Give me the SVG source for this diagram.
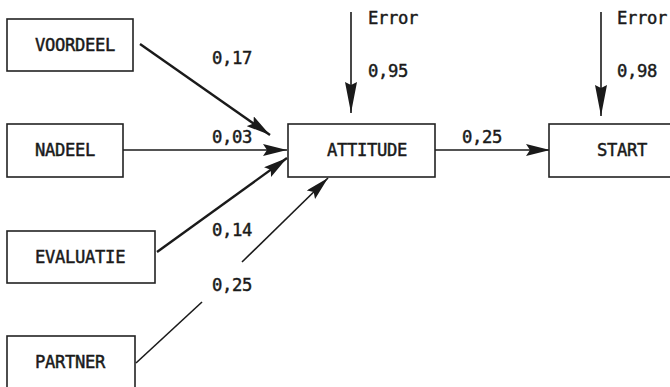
<svg xmlns="http://www.w3.org/2000/svg" width="670" height="387" viewBox="0 0 670 387">
<style>
.box{fill:#fff;stroke:#222;stroke-width:1.6}
.t{font-family:"DejaVu Sans Mono","Liberation Mono",monospace;font-size:17.2px;letter-spacing:-0.33px;fill:#1a1a1a;stroke:#1a1a1a;stroke-width:0.45px}
.c{stroke:#1a1a1a;fill:none}
</style>
<defs>
<marker id="ah" markerUnits="userSpaceOnUse" viewBox="0 0 24 12" refX="24" refY="6" markerWidth="24" markerHeight="12" orient="auto">
<path d="M0,0 L24,6 L0,12 L4,6 z" fill="#1a1a1a"/>
</marker>
<marker id="av" markerUnits="userSpaceOnUse" viewBox="0 0 31 12" refX="31" refY="6" markerWidth="31" markerHeight="12" orient="auto">
<path d="M0,0 L31,6 L0,12 L3,6 z" fill="#1a1a1a"/>
</marker>
</defs>
<g id="connectors">
<line class="c" x1="140" y1="44" x2="270" y2="135" stroke-width="2.4" marker-end="url(#ah)"/>
<line class="c" x1="123" y1="150" x2="287" y2="150" stroke-width="1.6" marker-end="url(#ah)"/>
<line class="c" x1="157" y1="252" x2="287" y2="158" stroke-width="2.4" marker-end="url(#ah)"/>
<line class="c" x1="136" y1="363" x2="202" y2="302" stroke-width="1.6"/>
<line class="c" x1="242" y1="262" x2="328" y2="178" stroke-width="1.6" marker-end="url(#ah)"/>
<line class="c" x1="435" y1="150" x2="550" y2="150" stroke-width="1.6" marker-end="url(#ah)"/>
<line class="c" x1="351" y1="12" x2="351" y2="113" stroke-width="1.6" marker-end="url(#av)"/>
<line class="c" x1="601" y1="12" x2="601" y2="116" stroke-width="1.6" marker-end="url(#av)"/>
</g>
<g id="labels">
<text class="t" x="212" y="64">0,17</text>
<text class="t" x="212" y="143">0,03</text>
<text class="t" x="212" y="236">0,14</text>
<text class="t" x="212" y="291">0,25</text>
<text class="t" x="462" y="143">0,25</text>
<text class="t" x="368" y="24">Error</text>
<text class="t" x="368" y="77">0,95</text>
<text class="t" x="617" y="24">Error</text>
<text class="t" x="617" y="77">0,98</text>
</g>
<g id="voordeel"><rect class="box" x="7" y="19" width="126" height="52"/><text class="t" x="35" y="51">VOORDEEL</text></g>
<g id="nadeel"><rect class="box" x="7" y="124" width="116" height="53"/><text class="t" x="35" y="156">NADEEL</text></g>
<g id="evaluatie"><rect class="box" x="7" y="231" width="148" height="52"/><text class="t" x="35" y="263">EVALUATIE</text></g>
<g id="partner"><rect class="box" x="7" y="336" width="128" height="60"/><text class="t" x="35" y="368">PARTNER</text></g>
<g id="attitude"><rect class="box" x="288" y="124" width="147" height="53"/><text class="t" x="327" y="156">ATTITUDE</text></g>
<g id="start"><rect class="box" x="549" y="124" width="130" height="53"/><text class="t" x="597" y="156">START</text></g>
</svg>
